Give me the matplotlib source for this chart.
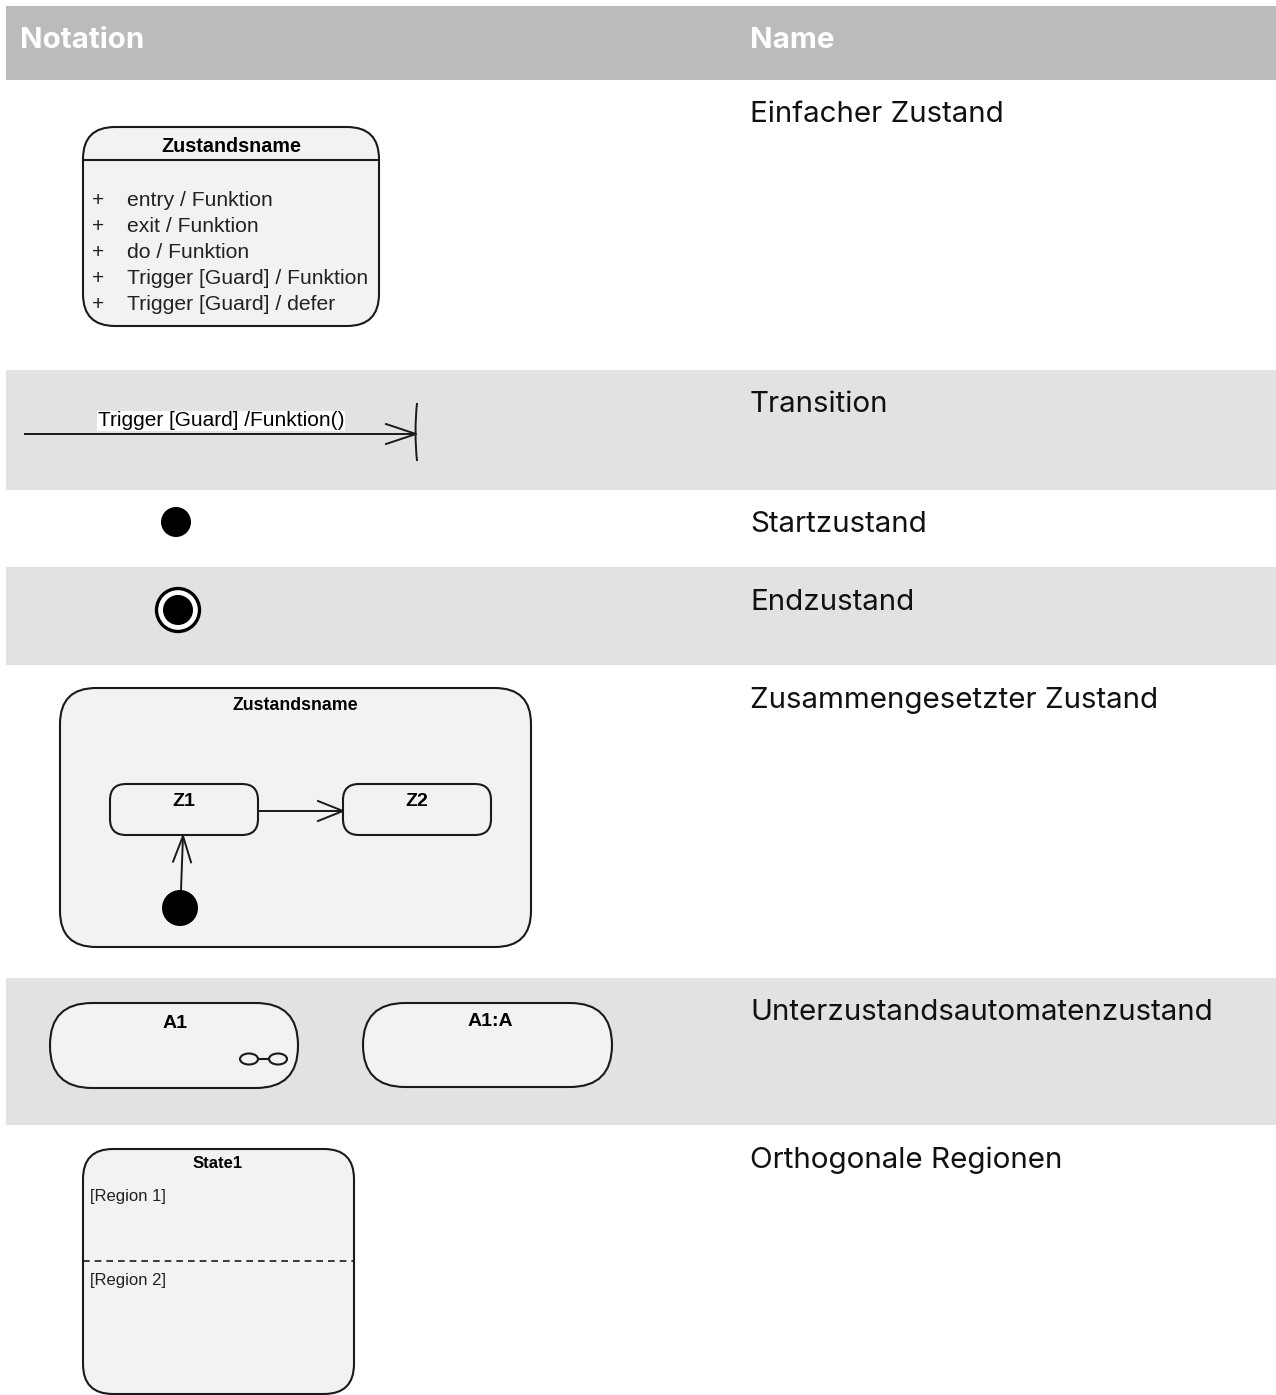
import matplotlib
matplotlib.use("Agg")
import math
import matplotlib.pyplot as plt
from matplotlib.patches import FancyBboxPatch, Circle, Ellipse, Rectangle, PathPatch
from matplotlib.path import Path

W, H = 1276, 1395
header_labels = ["Notation", "Name"]
row_names = ["Einfacher Zustand", "Transition", "Startzustand", "Endzustand",
             "Zusammengesetzter Zustand", "Unterzustandsautomatenzustand",
             "Orthogonale Regionen"]
row_bounds = [80, 370, 490, 567, 665, 978, 1125, 1395]
row_shaded = [False, True, False, True, False, True, False]
state_entries = ["entry / Funktion", "exit / Funktion", "do / Funktion",
                 "Trigger [Guard] / Funktion", "Trigger [Guard] / defer"]
transition_label = "Trigger [Guard] /Funktion()"
composite_title = "Zustandsname"
substates = ["Z1", "Z2"]
submachine_labels = ["A1", "A1:A"]
region_labels = ["[Region 1]", "[Region 2]"]
orth_title = "State1"

DIAG = "Liberation Sans"
NAMEF = "Inter"
FILL = "#f2f2f2"
EDGE = "#1a1a1a"

fig = plt.figure(figsize=(W / 100, H / 100), dpi=100)
ax = fig.add_axes([0, 0, 1, 1])
ax.set_xlim(0, W)
ax.set_ylim(H, 0)
ax.axis("off")

# header
ax.add_patch(Rectangle((6, 6), W - 6, 74, facecolor="#bbbbbb", edgecolor="none"))
ax.text(20, 40, header_labels[0], color="white", fontsize=21.3, fontweight="bold",
        family=NAMEF, va="center", ha="left")
ax.text(750, 40, header_labels[1], color="white", fontsize=21.3, fontweight="bold",
        family=NAMEF, va="center", ha="left")

# rows
for i, name in enumerate(row_names):
    y0, y1 = row_bounds[i], row_bounds[i + 1]
    if row_shaded[i]:
        ax.add_patch(Rectangle((6, y0), W - 6, y1 - y0, facecolor="#e2e2e2", edgecolor="none"))
    ax.text(750, y0 + 35, name, fontsize=21.3, family=NAMEF, va="center", ha="left", color="#111111")


def rbox(x0, y0, x1, y1, r, lw=1.5):
    p = FancyBboxPatch((x0, y0), x1 - x0, y1 - y0,
                       boxstyle=f"round,pad=0,rounding_size={r}",
                       facecolor=FILL, edgecolor=EDGE, linewidth=lw, zorder=3)
    ax.add_patch(p)
    return p


def open_arrow(x0, y0, x1, y1, head=28, half=10, lw=1.4):
    ax.plot([x0, x1], [y0, y1], color=EDGE, lw=lw, zorder=4, solid_capstyle="butt")
    dx, dy = x1 - x0, y1 - y0
    L = math.hypot(dx, dy)
    ux, uy = dx / L, dy / L
    px, py = -uy, ux
    bx, by = x1 - ux * head, y1 - uy * head
    ax.plot([bx + px * half, x1, bx - px * half], [by + py * half, y1, by - py * half],
            color=EDGE, lw=lw, zorder=4)


# 1. simple state
rbox(83, 127, 379, 326, 32)
ax.plot([83, 379], [160, 160], color=EDGE, lw=1.5, zorder=4)
ax.text(231, 146, "Zustandsname", family=DIAG, fontweight="bold", fontsize=14.2,
        ha="center", va="center", zorder=5)
for k, t in enumerate(state_entries):
    y = 201 + 26 * k
    ax.text(98, y, "+", family=DIAG, fontsize=15, ha="center", va="center", color="#222222", zorder=5)
    ax.text(127, y, t, family=DIAG, fontsize=15.2, ha="left", va="center", color="#222222", zorder=5)

# 2. transition
open_arrow(24, 434, 416, 434, head=30, half=10)
bar = Path([(417, 403), (414, 432), (417, 461)], [Path.MOVETO, Path.CURVE3, Path.CURVE3])
ax.add_patch(PathPatch(bar, facecolor="none", edgecolor=EDGE, lw=1.4, zorder=4))
ax.text(221, 421, transition_label, family=DIAG, fontsize=15, ha="center", va="center",
        zorder=5, bbox=dict(facecolor="white", edgecolor="none", pad=0.5))

# 3. start
ax.add_patch(Circle((176, 522), 15, facecolor="black", edgecolor="none", zorder=4))

# 4. end
ax.add_patch(Circle((178, 610), 21.5, facecolor="white", edgecolor="black", lw=2.4, zorder=4))
ax.add_patch(Circle((178, 610), 15, facecolor="black", edgecolor="none", zorder=5))

# 5. composite
rbox(60, 688, 531, 947, 36)
ax.text(295, 706, composite_title, family=DIAG, fontweight="bold", fontsize=12.8,
        ha="center", va="center", zorder=5)
rbox(110, 784, 258, 835, 16)
rbox(343, 784, 491, 835, 16)
ax.text(184, 802, substates[0], family=DIAG, fontweight="bold", fontsize=14, ha="center", va="center", zorder=5)
ax.text(417, 802, substates[1], family=DIAG, fontweight="bold", fontsize=14, ha="center", va="center", zorder=5)
open_arrow(258, 811, 343, 811, head=25, half=10)
ax.add_patch(Circle((180, 908), 18, facecolor="black", edgecolor="none", zorder=4))
open_arrow(181, 890, 183, 836, head=26, half=9)

# 6. submachine
rbox(50, 1003, 298, 1088, 42)
rbox(363, 1003, 612, 1087, 42)
ax.text(175, 1023, submachine_labels[0], family=DIAG, fontweight="bold", fontsize=14, ha="center", va="center", zorder=5)
ax.text(490, 1022, submachine_labels[1], family=DIAG, fontweight="bold", fontsize=14, ha="center", va="center", zorder=5)
ax.add_patch(Ellipse((249, 1059), 18, 11, facecolor="none", edgecolor=EDGE, lw=1.5, zorder=5))
ax.add_patch(Ellipse((278, 1059), 18, 11, facecolor="none", edgecolor=EDGE, lw=1.5, zorder=5))
ax.plot([258, 269], [1059, 1059], color=EDGE, lw=1.5, zorder=5)

# 7. orthogonal regions
rbox(83, 1149, 354, 1394, 30)
ax.text(218, 1164, orth_title, family=DIAG, fontweight="bold", fontsize=12, ha="center", va="center", zorder=5)
ax.text(90, 1196, region_labels[0], family=DIAG, fontsize=12, ha="left", va="center", color="#222222", zorder=5)
ax.plot([83, 354], [1261, 1261], color=EDGE, lw=1.2, ls=(0, (4, 3)), zorder=5)
ax.text(90, 1280, region_labels[1], family=DIAG, fontsize=12, ha="left", va="center", color="#222222", zorder=5)

fig.savefig("out.png", dpi=100, facecolor="white")
